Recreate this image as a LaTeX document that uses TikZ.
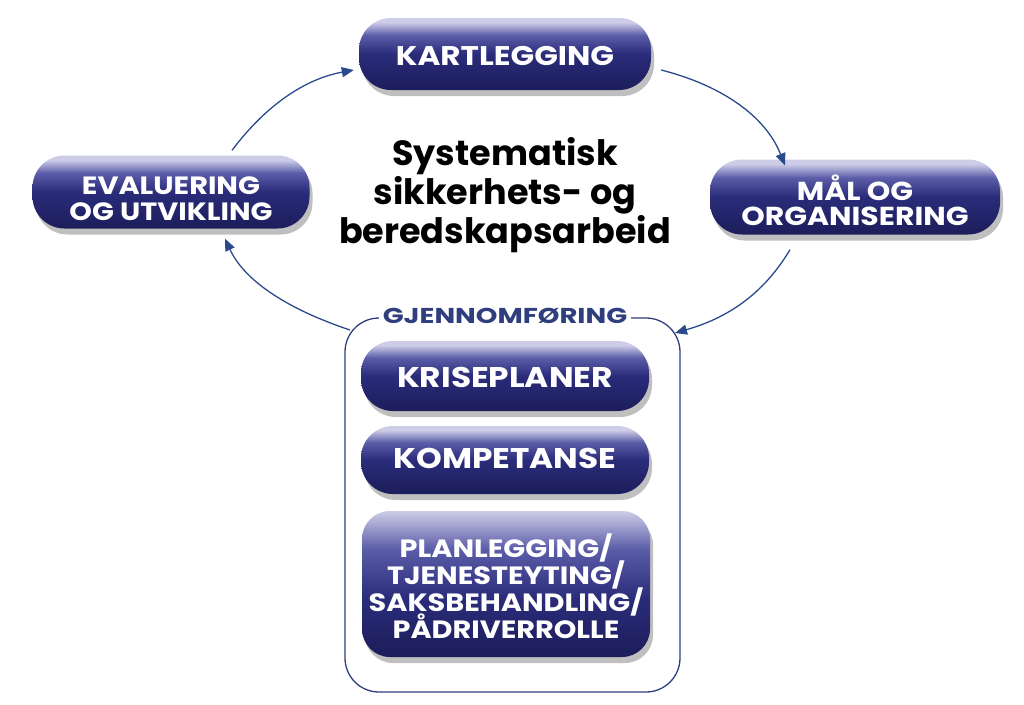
\documentclass[tikz,border=0pt]{standalone}
\usepackage{fontspec}
\setsansfont{Poppins}
\newfontfamily\pillfont{Poppins}[FakeStretch=1.15]
\newfontfamily\gjenfont{Poppins}[FakeStretch=1.28]
\newcommand\tightlines{\lineskiplimit=-50pt\relax}
\usetikzlibrary{shadows,calc,arrows.meta}
\definecolor{navyD}{HTML}{1C1D5A}
\definecolor{navy}{HTML}{2A2C7A}
\definecolor{navyL}{HTML}{5B5DA8}
\definecolor{lav}{HTML}{CDCDE8}
\definecolor{arrowc}{HTML}{2B4A8E}
\definecolor{boxc}{HTML}{2E3E7E}
\pgfdeclareverticalshading{pillshade}{100bp}{color(0bp)=(navyD); color(25bp)=(navyD); color(50bp)=(navy); color(63bp)=(navyL); color(72bp)=(lav); color(100bp)=(lav)}
\pgfdeclareverticalshading{bigshade}{100bp}{color(0bp)=(navyD); color(25bp)=(navyD); color(45bp)=(navy); color(62bp)=(navyL); color(75bp)=(lav); color(100bp)=(lav)}
\tikzset{
  pill/.style={rectangle, rounded corners=32pt, shading=pillshade, draw=none,
    text=white, align=center, inner sep=0pt, text depth=0pt,
    font=\pillfont\bfseries\fontsize{26}{28}\selectfont,
    drop shadow={shadow xshift=3pt, shadow yshift=-6pt, opacity=0.25, fill=black}},
  arr/.style={draw=arrowc, line width=1.3pt, -{Triangle[length=12pt,width=10pt]}},
}
\begin{document}
\begin{tikzpicture}[x=1pt,y=1pt]
\useasboundingbox (0,0) rectangle (1024,-704);
% container
\draw[boxc, line width=1.3pt, rounded corners=34pt] (345,-318) rectangle (680,-692);
\node[fill=white, inner xsep=4pt, inner ysep=1pt, text=boxc,
  font=\gjenfont\bfseries\fontsize{21.5}{22}\selectfont] (gjen) at (505,-316) {GJENNOMFØRING};
% pills
\node[pill, minimum width=292pt, minimum height=72pt, text height=22pt,
  font=\pillfont\bfseries\fontsize{27}{28}\selectfont] (kart) at (505,-54) {KARTLEGGING};
\node[pill, minimum width=277pt, minimum height=73pt, text height=56pt,
  font=\pillfont\bfseries\fontsize{25}{26}\selectfont\tightlines] (eval) at (171,-192) {EVALUERING\\OG UTVIKLING};
\node[pill, minimum width=290pt, minimum height=75pt, text height=56pt,
  font=\pillfont\bfseries\fontsize{26}{25}\selectfont\tightlines] (mal) at (855,-197) {MÅL OG\\ORGANISERING};
\node[pill, minimum width=288pt, minimum height=70pt, text height=22pt,
  font=\pillfont\bfseries\fontsize{28.5}{28}\selectfont] (kris) at (505,-376) {KRISEPLANER};
\node[pill, minimum width=288pt, minimum height=68pt, text height=17pt,
  font=\pillfont\bfseries\fontsize{28.5}{28}\selectfont] (komp) at (505,-460) {KOMPETANSE};
\node[pill, rounded corners=28pt, shading=bigshade, minimum width=288pt, minimum height=146pt,
  text height=108pt, font=\pillfont\bfseries\fontsize{25}{26.7}\selectfont\tightlines] (plan) at (506,-584)
  {PLANLEGGING/\\TJENESTEYTING/\\SAKSBEHANDLING/\\PÅDRIVERROLLE};
% title
\node[align=center, font=\sffamily\bfseries\fontsize{35}{39}\selectfont] (title) at (505,-195)
  {Systematisk\\sikkerhets- og\\beredskapsarbeid};
% arrows
\draw[arr] ($(eval.north)+(61,5)$) .. controls (270,-100) and (310,-78) .. ($(kart.west)+(-5,-16)$);
\draw[arr] ($(kart.east)+(10,-16)$) .. controls (720,-85) and (765,-115) .. ($(mal.north)+(-70,-6)$);
\draw[arr] ($(mal.south)+(-65,-15)$) .. controls (760,-300) and (720,-320) .. (675,-333);
\draw[arr] (350,-330) .. controls (290,-310) and (245,-282) .. ($(eval.south)+(54,-10)$);
\end{tikzpicture}
\end{document}
